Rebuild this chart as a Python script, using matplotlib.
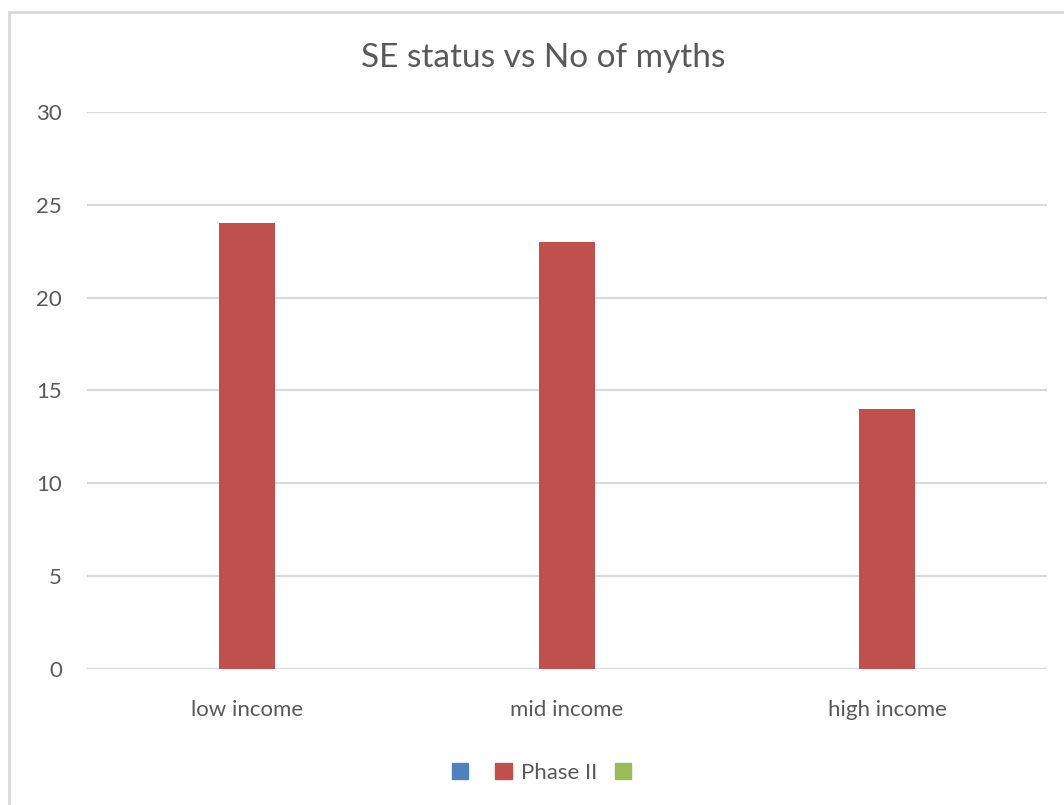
import numpy as np
import matplotlib
matplotlib.use("Agg")
import matplotlib.pyplot as plt
from matplotlib.patches import Rectangle, Patch

# dados
categorias = ["low income", "mid income", "high income"]
serie_azul = [0, 0, 0]
fase_ii = [24, 23, 14]
serie_verde = [0, 0, 0]
ticks_y = [0, 5, 10, 15, 20, 25, 30]

W, H = 1064, 805
fig = plt.figure(figsize=(W / 100, H / 100), dpi=100)
plt.rcParams["font.family"] = ["Lato", "DejaVu Sans"]

# moldura do gráfico (cortada à direita e embaixo)
fig.patches.append(Rectangle((9 / W, -0.1), 1.2, 1 - 12 / H + 0.1,
                             transform=fig.transFigure, fill=False,
                             edgecolor="#d9d9d9", linewidth=2))

ax = fig.add_axes([87 / W, 1 - 669 / H, (1047 - 87) / W, (669 - 112) / H])

x = np.arange(len(categorias))
largura = 56 / 320
ax.bar(x - largura, serie_azul, largura, color="#4f81bd")
ax.bar(x, fase_ii, largura, color="#c0504d")
ax.bar(x + largura, serie_verde, largura, color="#9bbb59")

ax.set_xlim(-0.5, len(categorias) - 0.5)
ax.set_ylim(0, 30)
ax.set_yticks(ticks_y)
ax.set_xticks(x)
ax.set_xticklabels(categorias)
ax.tick_params(length=0, labelsize=16, colors="#595959")
ax.tick_params(axis="x", pad=22)
ax.tick_params(axis="y", pad=18)
ax.yaxis.grid(True, color="#d9d9d9", linewidth=1.5)
ax.set_axisbelow(True)
for s in ax.spines.values():
    s.set_visible(False)

fig.text(543 / W, 1 - 58 / H, "SE status vs No of myths", ha="center",
         va="center", fontsize=24, color="#595959")

handles = [Patch(color="#4f81bd"), Patch(color="#c0504d"), Patch(color="#9bbb59")]
fig.legend(handles, ["", "Phase II", ""], loc="center", ncol=3,
           bbox_to_anchor=(546 / W, 1 - 773 / H), frameon=False,
           handlelength=0.75, handleheight=0.75, handletextpad=0.4,
           columnspacing=0.8, fontsize=16, labelcolor="#595959")

fig.savefig("out.png", dpi=100, facecolor="white")
